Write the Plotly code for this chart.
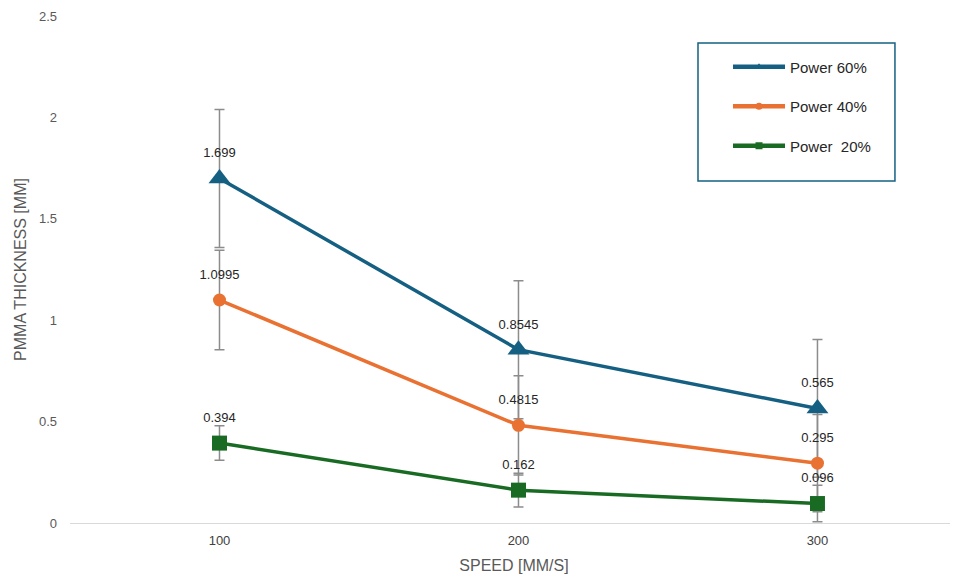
import plotly.graph_objects as go

speeds = ["100", "200", "300"]
power60 = [1.699, 0.8545, 0.565]
power40 = [1.0995, 0.4815, 0.295]
power20 = [0.394, 0.162, 0.096]
err60 = [0.34, 0.34, 0.34]
err40 = [0.245, 0.245, 0.24]
err20 = [0.085, 0.083, 0.09]
labels60 = ["1.699", "0.8545", "0.565"]
labels40 = ["1.0995", "0.4815", "0.295"]
labels20 = ["0.394", "0.162", "0.096"]
names = ["Power 60%", "Power 40%", "Power  20%"]

series = [
    (names[0], power60, err60, labels60, "#156082", "triangle-up", 19),
    (names[1], power40, err40, labels40, "#E97132", "circle", 13),
    (names[2], power20, err20, labels20, "#196B24", "square", 15),
]

fig = go.Figure()
font = "Liberation Sans, Arial, sans-serif"

for name, vals, errs, labs, color, sym, size in series:
    fig.add_trace(go.Scatter(
        x=speeds, y=vals, mode="lines+markers", name=name, showlegend=False,
        line=dict(color=color, width=3.5),
        marker=dict(symbol=sym, size=size, color=color),
        error_y=dict(type="data", array=errs, visible=True, color="#8c8c8c",
                     thickness=1.5, width=5),
    ))

for name, vals, errs, labs, color, sym, size in series:
    fig.add_trace(go.Scatter(
        x=speeds, y=vals, mode="markers+text", text=labs, textposition="top center",
        showlegend=False, hoverinfo="skip",
        marker=dict(size=27, opacity=0),
        textfont=dict(family=font, size=13, color="#262626"),
    ))

for i, (name, vals, errs, labs, color, sym, size) in enumerate(series):
    fig.add_trace(go.Scatter(
        x=[None], y=[None], mode="lines+markers", name=name, legendgroup=str(i),
        line=dict(color=color, width=4.5),
        marker=dict(symbol=sym, size=7, color=color),
    ))

fig.add_shape(type="rect", xref="paper", yref="paper",
              x0=0.7072, x1=0.929, y0=0.6746, y1=0.9467,
              line=dict(color="#156082", width=1.5), fillcolor="rgba(0,0,0,0)")

fig.update_layout(
    width=958, height=581,
    margin=dict(l=62, r=8, t=8, b=66, autoexpand=False),
    plot_bgcolor="white", paper_bgcolor="white",
    font=dict(family=font),
    showlegend=True,
    legend=dict(
        x=0.741, y=0.932, xanchor="left", yanchor="top",
        borderwidth=0, bgcolor="rgba(0,0,0,0)",
        font=dict(family=font, size=15, color="#262626"),
        traceorder="grouped", tracegroupgap=17,
        itemwidth=52,
    ),
    xaxis=dict(
        type="category", range=[-0.5, 2.47],
        showline=True, linecolor="#d9d9d9", linewidth=1,
        showgrid=False, zeroline=False, ticks="",
        ticklabelstandoff=5,
        tickfont=dict(family=font, size=13, color="#404040"),
        title=dict(text="SPEED [MM/S]", font=dict(family=font, size=16, color="#595959"),
                   standoff=13),
    ),
    yaxis=dict(
        range=[0, 2.5], dtick=0.5, tick0=0,
        showline=False, showgrid=False, zeroline=False, ticks="",
        ticklabelstandoff=12,
        tickfont=dict(family=font, size=13, color="#595959"),
        title=dict(text="PMMA THICKNESS [MM]", font=dict(family=font, size=16, color="#595959"),
                   standoff=8),
    ),
)

fig.write_html("out.html")
